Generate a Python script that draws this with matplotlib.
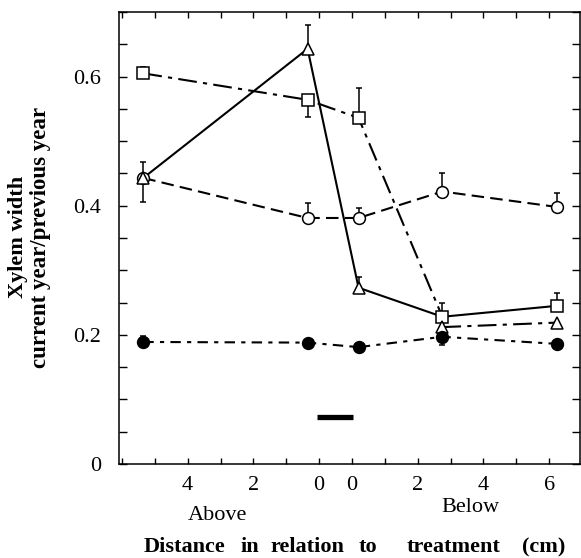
import matplotlib
matplotlib.use("Agg")
import matplotlib.pyplot as plt
from matplotlib.ticker import MultipleLocator, FixedLocator
import matplotlib.transforms as mtransforms

plt.rcParams['font.family'] = ['Liberation Serif', 'DejaVu Serif']

# sampling points: which side of the treatment and distance (cm)
side = ['above', 'above', 'below', 'below', 'below']
dist = [5.35, 0.35, 0.2, 2.75, 6.25]

# series (ratio current year / previous year)
squares = [0.605, 0.564, 0.536, 0.228, 0.245]
sq_up = [0.010, 0.0, 0.047, 0.022, 0.020]
sq_lo = [0.0, 0.026, 0.0, 0.0, 0.0]

triangles = [0.443, 0.643, 0.273, 0.212, 0.219]
tr_up = [0.024, 0.037, 0.016, 0.0, 0.0]
tr_lo = [0.0, 0.0, 0.0, 0.0, 0.0]

circles = [0.443, 0.381, 0.381, 0.422, 0.398]
ci_up = [0.0, 0.023, 0.016, 0.029, 0.022]
ci_lo = [0.038, 0.0, 0.0, 0.0, 0.0]

filled = [0.189, 0.188, 0.181, 0.197, 0.186]
fi_up = [0.010, 0.0, 0.0, 0.012, 0.0]
fi_lo = [0.0, 0.0, 0.0, 0.012, 0.0]

tick_dist = [4, 2, 0, 0, 2, 4, 6]
tick_side = ['above', 'above', 'above', 'below', 'below', 'below', 'below']
treatment_y = 0.073

xlabel_words = ['Distance', 'in', 'relation', 'to', 'treatment', '(cm)']
xlabel_px = [185, 250, 307, 368, 453.5, 544]


def pos(s, d):
    # the two distance scales sit either side of a 1 cm gap
    return -(d + 0.5) if s == 'above' else d + 0.5


x = [pos(s, d) for s, d in zip(side, dist)]

fig = plt.figure(figsize=(5.81, 5.58), dpi=100)
ax = fig.add_axes([119 / 581, 1 - 464 / 558, 461 / 581, 452 / 558])

lw = 1.5
ms = 8.5
dd_sq = (9, 3, 2, 3)
dd_fi = (5, 3, 2, 3)

# lines
ax.plot(x[0:3] + x[3:5], triangles[0:3] + squares[3:5], '-', color='k', lw=lw, zorder=2)
ax.plot(x[0:4], squares[0:4], color='k', lw=lw, dashes=dd_sq, zorder=2)
ax.plot(x[3:5], triangles[3:5], color='k', lw=lw, dashes=dd_sq, zorder=2)
ax.plot(x, circles, color='k', lw=lw, dashes=(6, 3), zorder=2)
ax.plot(x, filled, color='k', lw=lw, dashes=dd_fi, zorder=2)

# error bars and markers
for vals, up, lo, m, fc in [(squares, sq_up, sq_lo, 's', 'white'),
                            (circles, ci_up, ci_lo, 'o', 'white'),
                            (triangles, tr_up, tr_lo, '^', 'white'),
                            (filled, fi_up, fi_lo, 'o', 'black')]:
    ax.errorbar(x, vals, yerr=[lo, up], fmt='none', ecolor='k', elinewidth=1.1,
                capsize=2.5, capthick=1.1, zorder=3)
    ax.plot(x, vals, m, ls='none', ms=ms if m != '^' else ms + 0.5, mfc=fc, mec='k',
            mew=1.1, zorder=4)

# treatment bar
ax.plot([-0.57, 0.53], [treatment_y, treatment_y], '-', color='k', lw=3.8,
        solid_capstyle='butt', zorder=2)

ax.set_xlim(-6.59, 7.44)
ax.set_ylim(0, 0.70)

ax.xaxis.set_major_locator(FixedLocator([pos(s, d) for s, d in zip(tick_side, tick_dist)]))
ax.set_xticklabels([str(d) for d in tick_dist])
ax.xaxis.set_minor_locator(MultipleLocator(1.0, offset=0.5))
ax.yaxis.set_major_locator(FixedLocator([0, 0.2, 0.4, 0.6]))
ax.set_yticklabels(['0', '0.2', '0.4', '0.6'])
ax.yaxis.set_minor_locator(MultipleLocator(0.05))

ax.tick_params(which='both', direction='in', top=True, right=True, width=1.0,
               labelsize=16)
ax.tick_params(axis='y', which='both', length=5.5, pad=13)
ax.tick_params(axis='x', which='both', length=4, pad=9)
for sp in ax.spines.values():
    sp.set_linewidth(1.1)

trans = mtransforms.blended_transform_factory(ax.transData, fig.transFigure)
ax.text(-3.58, 1 - 515 / 558, 'Above', transform=trans, ha='center', va='center',
        fontsize=16)
ax.text(4.1, 1 - 507 / 558, 'Below', transform=trans, ha='center', va='center',
        fontsize=16)

for word, px in zip(xlabel_words, xlabel_px):
    fig.text(px / 581, 1 - 547 / 558, word, ha='center', va='center',
             fontsize=16, fontweight='bold')
fig.text(18 / 581, 1 - 237 / 558, 'Xylem width', rotation=90, ha='center',
         va='center', fontsize=16, fontweight='bold')
fig.text(41 / 581, 1 - 238 / 558, 'current year/previous year', rotation=90,
         ha='center', va='center', fontsize=16.5, fontweight='bold')

fig.savefig('out.png', dpi=100)
